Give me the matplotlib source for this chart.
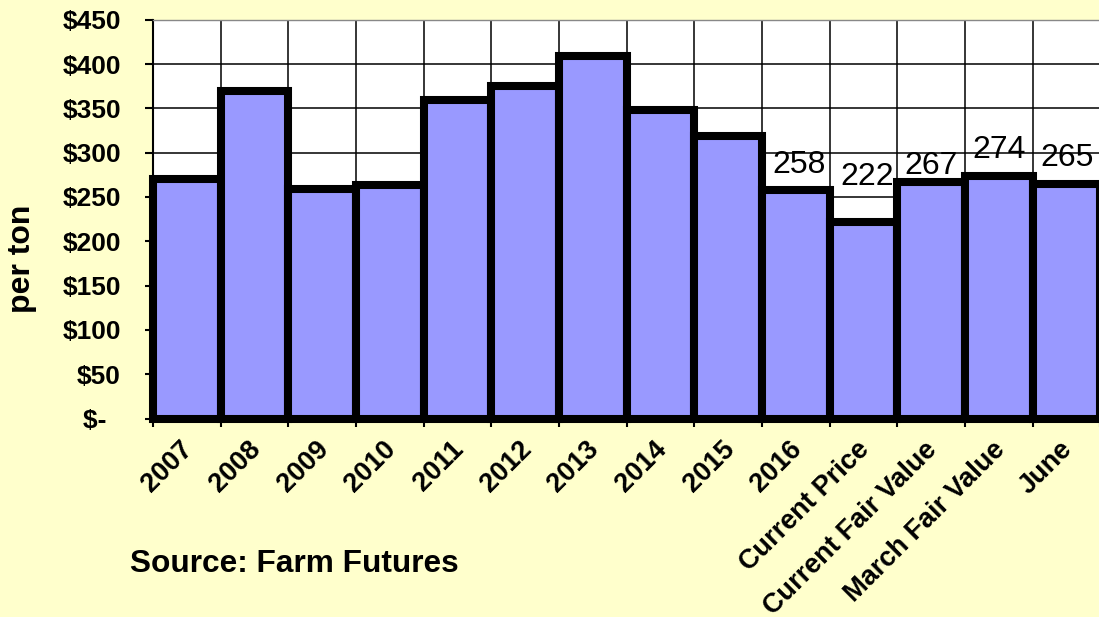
import matplotlib
matplotlib.use("Agg")
import matplotlib.pyplot as plt
import matplotlib.transforms as mtransforms
import numpy as np

categories = ["2007", "2008", "2009", "2010", "2011", "2012", "2013", "2014",
              "2015", "2016", "Current Price", "Current Fair Value",
              "March Fair Value", "June"]
values = [270, 369, 259, 263, 359, 375, 409, 348, 319, 258, 222, 267, 274, 265]
labelled = [False] * 9 + [True] * 5
ytick_values = [0, 50, 100, 150, 200, 250, 300, 350, 400, 450]
ytick_labels = ["$-  ", "$50", "$100", "$150", "$200", "$250", "$300",
                "$350", "$400", "$450"]
# vertical pixel offsets of the data labels above the bar tops (style)
label_dy = [17, 37, 8, 18, 18]
label_dx = [3, 4, 0, 0, 0]

plt.rcParams['font.family'] = ['Liberation Sans', 'DejaVu Sans']

BG = "#FFFFCC"
BAR = "#9999FF"

fig = plt.figure(figsize=(10.99, 6.17), dpi=100, facecolor=BG)
ax = fig.add_axes([153/1099, (617-418.5)/617, (1100.4-153)/1099, (418.5-19.7)/617])
ax.set_facecolor("white")

x = np.arange(len(categories))
bars = ax.bar(x, values, width=1.0, color=BAR, edgecolor="black",
              linewidth=5.8, zorder=3, clip_on=False)

ax.set_xlim(-0.5, len(categories) - 0.5)
ax.set_ylim(0, 450)

ax.set_yticks(ytick_values)
ax.set_yticklabels(ytick_labels, fontsize=19, fontweight="bold")
ax.set_xticks(x)
ax.set_xticklabels(categories, fontsize=19.5, fontweight="bold", rotation=45,
                   ha="right", va="top", rotation_mode="anchor")
ax.set_xticks(np.arange(len(categories) + 1) - 0.5, minor=True)

ax.tick_params(axis="x", which="major", length=0, pad=13)
ax.tick_params(axis="x", which="minor", length=5.8, width=1.5, direction="out")
ax.tick_params(axis="y", which="major", length=5.8, width=1.5, direction="out", pad=17.3)

shift = mtransforms.ScaledTranslation(-7/100, 0, fig.dpi_scale_trans)
for lbl in ax.get_xticklabels():
    lbl.set_transform(lbl.get_transform() + shift)

ax.set_axisbelow(True)
ax.grid(axis="y", which="major", color="black", linewidth=1.1)
ax.grid(axis="x", which="minor", color="black", linewidth=1.1)

ax.spines["right"].set_visible(False)
ax.spines["top"].set_color("#888888")
ax.spines["top"].set_linewidth(1.0)
ax.spines["left"].set_linewidth(1.5)
ax.spines["bottom"].set_linewidth(1.5)

k = 0
for i, (v, lab) in enumerate(zip(values, labelled)):
    if lab:
        ax.annotate(f"{v}", xy=(x[i], v), xytext=(label_dx[k], label_dy[k]),
                    textcoords="offset pixels", ha="center", va="baseline",
                    fontsize=23, color="black", zorder=5, annotation_clip=False)
        k += 1

fig.text(22/1099, 1 - 259/617, "per ton", rotation=90, fontsize=23,
         fontweight="bold", ha="center", va="center")
fig.text(130/1099, 1 - 572/617, "Source: Farm Futures", fontsize=22.8,
         fontweight="bold", ha="left", va="baseline")

fig.savefig("out.png", dpi=100, facecolor=BG)
